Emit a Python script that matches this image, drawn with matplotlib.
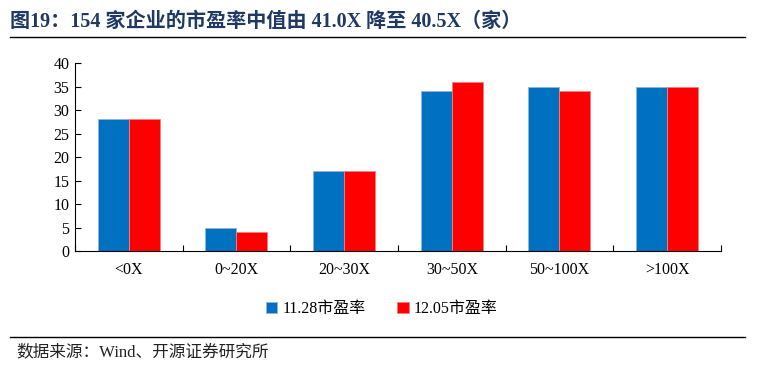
import matplotlib
matplotlib.use('Agg')
import matplotlib.pyplot as plt
import numpy as np

# fonts: serif for latin, CJK fallback
plt.rcParams['font.family'] = ['Liberation Serif', 'Noto Sans CJK SC']

categories = ['<0X', '0~20X', '20~30X', '30~50X', '50~100X', '>100X']
pe_1128 = [28, 5, 17, 34, 35, 35]
pe_1205 = [28, 4, 17, 36, 34, 35]
series_names = ['11.28市盈率', '12.05市盈率']
title = '图19：154 家企业的市盈率中值由 41.0X 降至 40.5X（家）'
source = '数据来源：Wind、开源证券研究所'

fig = plt.figure(figsize=(7.59, 3.73), dpi=100)
ax = fig.add_axes([0.0988, 0.327, 0.851, 0.504])

x = np.arange(len(categories))
w = 0.288
ax.bar(x - w / 2, pe_1128, w, color='#0070C0', edgecolor='#8fb4e0', linewidth=0.6,
       label=series_names[0])
ax.bar(x + w / 2, pe_1205, w, color='#FF0000', edgecolor='#f08080', linewidth=0.6,
       label=series_names[1])

ax.set_xlim(-0.5, len(categories) - 0.5)
ax.set_ylim(0, 40)
ax.set_yticks(range(0, 41, 5))
ax.set_xticks(x)
ax.set_xticklabels(categories)
ax.set_xticks(np.arange(-0.5, len(categories), 1), minor=True)
ax.tick_params(axis='x', which='major', length=0, pad=8, labelsize=11.5)
ax.tick_params(axis='x', which='minor', direction='in', length=4, width=0.8)
ax.tick_params(axis='y', direction='in', length=4, width=0.8, labelsize=11.5, pad=4)
for s in ['top', 'right']:
    ax.spines[s].set_visible(False)
for s in ['left', 'bottom']:
    ax.spines[s].set_linewidth(0.8)

ax.legend(loc='upper center', bbox_to_anchor=(0.475, -0.19), ncol=2, frameon=False,
          fontsize=11.5, handlelength=0.7, handleheight=0.7, handletextpad=0.3,
          columnspacing=2.0)

fig.text(0.013, 0.94, title, fontsize=14.5, fontweight='bold', color='#1F3864',
         va='center', ha='left')
fig.add_artist(plt.Line2D([0.013, 0.982], [0.9, 0.9], color='black', linewidth=1.0))
fig.add_artist(plt.Line2D([0.013, 0.982], [0.097, 0.097], color='black', linewidth=1.0))
fig.text(0.022, 0.055, source, fontsize=12, color='#222222', va='center', ha='left')

fig.savefig('out.png', dpi=100)
